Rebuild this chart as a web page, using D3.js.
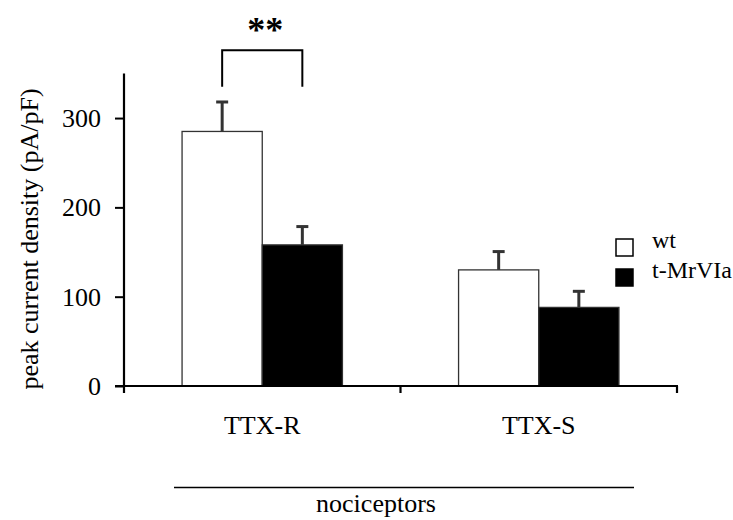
<!DOCTYPE html>
<html>
<head>
<meta charset="utf-8">
<script src="https://cdn.jsdelivr.net/npm/d3@7"></script>
<style>
  body { margin: 0; background: #fff; }
  text { font-family: "Liberation Serif", "Times New Roman", serif; fill: #000; }
</style>
</head>
<body>
<svg id="chart" width="733" height="520"></svg>
<script>
var groups = ["TTX-R", "TTX-S"];
var series = ["wt", "t-MrVIa"];
var wtMean = [285, 130];
var wtErr = [33, 20.5];
var mrMean = [158, 88];
var mrErr = [20.5, 18];
var yTicks = [0, 100, 200, 300];
var sigPair = { group: "TTX-R", label: "**", top: 376, bottom: 335 };
var bottomLabel = "nociceptors";

var data = [];
groups.forEach(function(g, i) {
    data.push({ group: g, series: "wt", mean: wtMean[i], err: wtErr[i] });
    data.push({ group: g, series: "t-MrVIa", mean: mrMean[i], err: mrErr[i] });
});

var svg = d3.select("#chart");
var axisX = 124, axisY = 386;

var x = d3.scaleBand().domain(groups).range([124, 677]);
var x1 = d3.scaleBand().domain(series)
    .range([x.bandwidth() * 0.21, x.bandwidth() * 0.79]);
var y = d3.scaleLinear().domain([0, 350]).range([386, 73.4]);
var fill = d3.scaleOrdinal().domain(series).range(["#fff", "#000"]);

// bars
svg.selectAll(".bar")
    .data(data)
    .enter().append("rect")
    .attr("class", "bar")
    .attr("x", d => x(d.group) + x1(d.series))
    .attr("y", d => y(d.mean))
    .attr("width", x1.bandwidth())
    .attr("height", d => y(0) - y(d.mean))
    .style("fill", d => fill(d.series))
    .style("stroke", "#333")
    .style("stroke-width", 1.3);

// error bars (upper only)
var cx = d => x(d.group) + x1(d.series) + x1.bandwidth() / 2;
svg.selectAll(".err")
    .data(data)
    .enter().append("line")
    .attr("x1", cx).attr("x2", cx)
    .attr("y1", d => y(d.mean)).attr("y2", d => y(d.mean + d.err))
    .style("stroke", "#333").style("stroke-width", 3);
svg.selectAll(".cap")
    .data(data)
    .enter().append("line")
    .attr("x1", d => cx(d) - 6).attr("x2", d => cx(d) + 6)
    .attr("y1", d => y(d.mean + d.err)).attr("y2", d => y(d.mean + d.err))
    .style("stroke", "#333").style("stroke-width", 3);

// y axis
var yAxis = d3.axisLeft(y).tickValues(yTicks).tickSize(9).tickPadding(14).tickSizeOuter(0);
var gy = svg.append("g").attr("transform", "translate(" + axisX + ",0)").call(yAxis);
gy.select(".domain").remove();
gy.selectAll(".tick line").style("stroke", "#000").style("stroke-width", 2);
gy.selectAll(".tick text").style("font-size", "26px").attr("font-family", null);
svg.append("line")
    .attr("x1", axisX).attr("x2", axisX)
    .attr("y1", y(350)).attr("y2", axisY + 7)
    .style("stroke", "#000").style("stroke-width", 2.2);

// x axis
svg.append("line")
    .attr("x1", axisX - 9).attr("x2", x.range()[1] + 1)
    .attr("y1", axisY).attr("y2", axisY)
    .style("stroke", "#000").style("stroke-width", 2.2);
var edges = groups.map(g => x(g)).concat([x(groups[groups.length - 1]) + x.bandwidth()]);
svg.selectAll(".xtick")
    .data(edges.slice(1))
    .enter().append("line")
    .attr("x1", d => d).attr("x2", d => d)
    .attr("y1", axisY).attr("y2", axisY + 7)
    .style("stroke", "#000").style("stroke-width", 2.2);
svg.selectAll(".xlab")
    .data(groups)
    .enter().append("text")
    .attr("x", d => x(d) + x.bandwidth() / 2)
    .attr("y", 434)
    .attr("text-anchor", "middle")
    .style("font-size", "26px")
    .text(d => d);

// y label
svg.append("text")
    .attr("transform", "translate(38,239) rotate(-90)")
    .attr("text-anchor", "middle")
    .style("font-size", "26px")
    .text("peak current density (pA/pF)");

// significance bracket
var bx1 = x(sigPair.group) + x1("wt") + x1.bandwidth() / 2;
var bx2 = x(sigPair.group) + x1("t-MrVIa") + x1.bandwidth() / 2;
svg.append("path")
    .attr("d", "M" + bx1 + "," + y(sigPair.bottom) + "V" + y(sigPair.top) + "H" + bx2 + "V" + y(sigPair.bottom))
    .style("fill", "none").style("stroke", "#000").style("stroke-width", 2);
svg.append("text")
    .attr("x", (bx1 + bx2) / 2 + 3)
    .attr("y", 42)
    .attr("text-anchor", "middle")
    .style("font-size", "36px")
    .style("font-weight", "bold")
    .text(sigPair.label);

// group line + label
svg.append("line")
    .attr("x1", 174).attr("x2", 634)
    .attr("y1", 487.5).attr("y2", 487.5)
    .style("stroke", "#000").style("stroke-width", 1.5);
svg.append("text")
    .attr("x", 376).attr("y", 512)
    .attr("text-anchor", "middle")
    .style("font-size", "26px")
    .text(bottomLabel);

// legend
var leg = svg.selectAll(".leg")
    .data(series)
    .enter().append("g")
    .attr("transform", (d, i) => "translate(616," + (239 + i * 30) + ")");
leg.append("rect")
    .attr("width", 17).attr("height", 17)
    .style("fill", d => fill(d))
    .style("stroke", "#000").style("stroke-width", 1.5);
leg.append("text")
    .attr("x", 36).attr("y", 9)
    .style("font-size", "24px")
    .text(d => d);
</script>
</body>
</html>
